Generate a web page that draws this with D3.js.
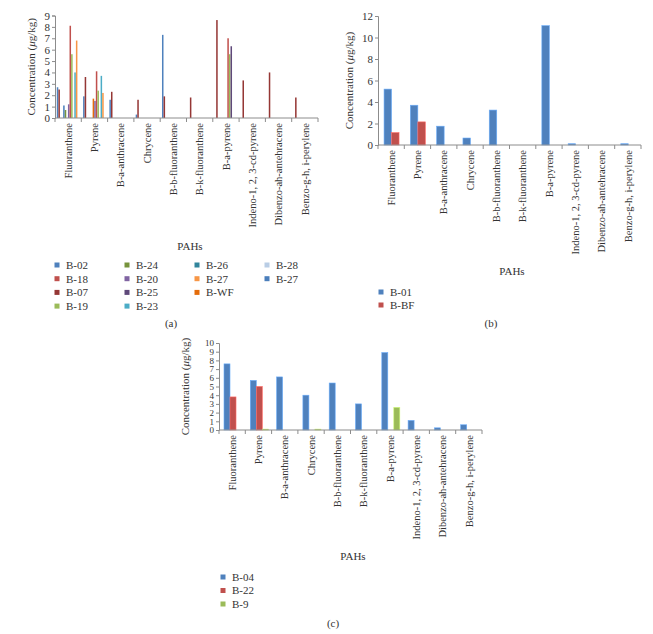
<!DOCTYPE html>
<html><head><meta charset="utf-8">
<script src="https://cdn.jsdelivr.net/npm/d3@7"></script>
<style>body{margin:0;background:#fff}svg{display:block}text{font-family:"Liberation Serif","DejaVu Serif",serif;fill:#333}</style>
</head><body>
<svg id="c" width="653" height="634"></svg>
<script>
// ---------- DATA ----------
const categories = ["Fluoranthene","Pyrene","B-a-anthracene","Chrycene","B-b-fluoranthene","B-k-fluoranthene","B-a-pyrene","Indeno-1, 2, 3-cd-pyrene","Dibenzo-ah-antehracene","Benzo-g-h, i-perylene"];
const ticksA = [0,1,2,3,4,5,6,7,8,9];
const ticksB = [0,2,4,6,8,10,12];
const ticksC = [0,1,2,3,4,5,6,7,8,9,10];

// Panel (a) series (bar order within category)
const a_B02  = [2.7,1.9,1.6,0.3,7.3,0,0,0,0,0];
const a_B07  = [2.5,3.6,2.3,1.6,1.9,1.8,8.6,3.3,4.0,1.8];
const a_B28  = [0,0,0,0,0,0,0,0,0,0];
const a_B26  = [0,0,0,0,0,0,0,0,0,0];
const a_B27b = [1.1,0,0,0,0,0,0,0,0,0];
const a_B24  = [0.7,0,0,0,0,0,0,0,0,0];
const a_BWF  = [0,1.7,0,0,0,0,0,0,0,0];
const a_B20  = [1.2,1.5,0,0,0,0,0,0,0,0];
const a_B18  = [8.1,4.1,0,0,0,0,7.0,0,0,0];
const a_B19  = [5.6,2.4,0,0,0,0,5.6,0,0,0];
const a_B25  = [0,0,0,0,0,0,6.3,0,0,0];
const a_B23  = [4.0,3.7,0,0,0,0,0,0,0,0];
const a_B27o = [6.8,2.2,0,0,0,0,0,0,0,0];
const seriesA = [
  {id:"B02", label:"B-02", color:"#4F81BD", values:a_B02},
  {id:"B07", label:"B-07", color:"#953735", values:a_B07},
  {id:"B28", label:"B-28", color:"#B9CDE5", values:a_B28},
  {id:"B26", label:"B-26", color:"#31859C", values:a_B26},
  {id:"B27b",label:"B-27", color:"#4A7EBB", values:a_B27b},
  {id:"B24", label:"B-24", color:"#77933C", values:a_B24},
  {id:"BWF", label:"B-WF", color:"#E46C0A", values:a_BWF},
  {id:"B20", label:"B-20", color:"#8064A2", values:a_B20},
  {id:"B18", label:"B-18", color:"#C0504D", values:a_B18},
  {id:"B19", label:"B-19", color:"#9BBB59", values:a_B19},
  {id:"B25", label:"B-25", color:"#5F497A", values:a_B25},
  {id:"B23", label:"B-23", color:"#4BACC6", values:a_B23},
  {id:"B27o",label:"B-27", color:"#F79646", values:a_B27o}
];
// legend rows for panel (a)
const legendRowsA = [["B02","B24","B26","B28"],["B18","B20","B27o","B27b"],["B07","B25","BWF"],["B19","B23"]];

// Panel (b)
const b_B01 = [5.2,3.7,1.75,0.65,3.25,0,11.1,0.12,0,0.12];
const b_BBF = [1.15,2.15,0,0,0,0,0,0,0,0];
const seriesB = [
  {id:"B01", label:"B-01", color:"#4F81BD", values:b_B01},
  {id:"BBF", label:"B-BF", color:"#C0504D", values:b_BBF}
];

// Panel (c)
const c_B04 = [7.6,5.7,6.1,4.0,5.4,3.0,8.9,1.1,0.25,0.6];
const c_B22 = [3.8,5.0,0,0,0,0,0,0,0,0];
const c_B9  = [0,0.1,0,0.1,0,0,2.6,0,0,0];
const seriesC = [
  {id:"B04", label:"B-04", color:"#4F81BD", values:c_B04},
  {id:"B22", label:"B-22", color:"#C0504D", values:c_B22},
  {id:"B9",  label:"B-9",  color:"#9BBB59", values:c_B9}
];

// ---------- DRAW ----------
const svg = d3.select("#c");
const axisColor = "#8c8c8c";

function panel(cfg){
  const g = svg.append("g");
  const x = d3.scaleBand().domain(categories).range([cfg.x0, cfg.x1]).padding(0);
  const y = d3.scaleLinear().domain([0, cfg.ymax]).range([cfg.y0, cfg.yTop]);
  const inner = d3.scaleBand().domain(cfg.series.map(s=>s.id))
      .range([cfg.inL * x.bandwidth(), cfg.inR * x.bandwidth()]).padding(cfg.inPad);

  cfg.series.forEach(s=>{
    g.append("g").selectAll("rect").data(s.values.map((v,i)=>({v, c:categories[i]})))
      .join("rect")
      .attr("x", d=>x(d.c) + inner(s.id))
      .attr("width", inner.bandwidth())
      .attr("y", d=>y(d.v))
      .attr("height", d=>cfg.y0 - y(d.v))
      .attr("fill", s.color)
      .attr("stroke", cfg.barStroke ? d3.color(s.color).brighter(0.8) : "none")
      .attr("stroke-width", cfg.barStroke ? 0.6 : 0);
  });

  const ya = g.append("g").attr("transform",`translate(${cfg.x0},0)`)
    .call(d3.axisLeft(y).tickValues(cfg.ticks).tickSize(3).tickFormat(d3.format("d")));
  ya.select(".domain").attr("stroke", axisColor);
  ya.selectAll(".tick line").attr("stroke", axisColor);
  ya.selectAll(".tick text").attr("font-size", cfg.tickFont).attr("fill","#333")
    .style("font-family",'"Liberation Serif",serif').attr("x",-5);

  const xa = g.append("g").attr("transform",`translate(0,${cfg.y0})`);
  xa.append("line").attr("x1",cfg.x0).attr("x2",cfg.x1).attr("y1",0).attr("y2",0).attr("stroke",axisColor);
  const bounds = categories.map(c=>x(c)).concat([x(categories[categories.length-1]) + x.bandwidth()]);
  xa.selectAll("line.t").data(bounds).join("line").attr("class","t")
    .attr("x1",d=>d).attr("x2",d=>d).attr("y1",0).attr("y2",4).attr("stroke",axisColor);
  xa.selectAll("text").data(categories).join("text")
    .attr("transform", d=>`translate(${x(d)+x.bandwidth()/2},${5}) rotate(-90)`)
    .attr("text-anchor","end").attr("dy","0.35em")
    .attr("font-size", cfg.catFont).text(d=>d);

  const yl = g.append("text")
    .attr("transform",`translate(${cfg.ylabX},${(cfg.y0+cfg.yTop)/2}) rotate(-90)`)
    .attr("text-anchor","middle").attr("font-size", cfg.ylabFont);
  yl.append("tspan").text("Concentration (");
  yl.append("tspan").attr("font-style","italic").text("μ");
  yl.append("tspan").text("g/kg)");

  g.append("text").attr("x",cfg.xlabX).attr("y",cfg.xlabY).attr("text-anchor","middle")
    .attr("font-size",11).text("PAHs");

  const byId = new Map(cfg.series.map(s=>[s.id,s]));
  cfg.legendRows.forEach((rowIds,row)=>{
    rowIds.forEach((id,col)=>{
      const s = byId.get(id);
      const lx = cfg.legX + col*cfg.legColW, ly = cfg.legY + row*cfg.legRowH;
      g.append("rect").attr("x",lx-2.5).attr("y",ly-2.5).attr("width",5).attr("height",5).attr("fill",s.color);
      g.append("text").attr("x",lx+9).attr("y",ly).attr("dy","0.35em").attr("font-size",11).text(s.label);
    });
  });

  g.append("text").attr("x",cfg.capX).attr("y",cfg.capY).attr("dy","0.35em").attr("text-anchor","middle")
    .attr("font-size",11).text(cfg.caption);
}

panel({series:seriesA, x0:55, x1:318, y0:118, yTop:15.5, ymax:9, ticks:ticksA,
  inL:0.065, inR:0.855, inPad:0.05, barStroke:false,
  tickFont:11, catFont:10.5, ylabFont:11, ylabX:35,
  xlabX:190, xlabY:250, legendRows:legendRowsA, legX:57, legY:265, legColW:70, legRowH:13.7,
  caption:"(a)", capX:171, capY:323});

panel({series:seriesB, x0:378, x1:641, y0:145, yTop:16, ymax:12, ticks:ticksB,
  inL:0.23, inR:0.8, inPad:0, barStroke:true,
  tickFont:11, catFont:10.5, ylabFont:11, ylabX:353,
  xlabX:512, xlabY:275, legendRows:[["B01"],["BBF"]], legX:381, legY:292, legColW:70, legRowH:13,
  caption:"(b)", capX:491, capY:323});

panel({series:seriesC, x0:219, x1:482, y0:430, yTop:343, ymax:10, ticks:ticksC,
  inL:0.19, inR:0.875, inPad:0, barStroke:true,
  tickFont:9, catFont:10.5, ylabFont:11, ylabX:189,
  xlabX:353, xlabY:560, legendRows:[["B04"],["B22"],["B9"]], legX:223, legY:577, legColW:70, legRowH:13.5,
  caption:"(c)", capX:333, capY:623});
</script>
</body></html>
